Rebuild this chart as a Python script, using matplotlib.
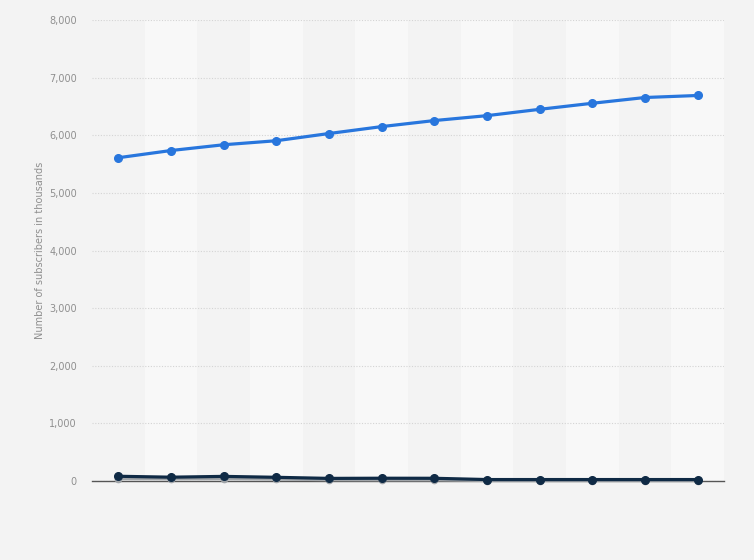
#!/usr/bin/env python3
"""Subscriber numbers in thousands, two main series plus a minor one near zero."""

import matplotlib
matplotlib.use('Agg')
import matplotlib.pyplot as plt
import numpy as np

periods = list(range(12))
main_subscribers = [5610, 5735, 5835, 5905, 6030, 6150, 6255, 6340, 6450, 6555, 6655, 6690]
second_subscribers = [82, 66, 80, 64, 45, 48, 47, 25, 25, 25, 25, 25]
third_subscribers = [40, 35, 38, 30, 20, 18, 18, 5, 5, 5, 5, 5]
y_ticks = [0, 1000, 2000, 3000, 4000, 5000, 6000, 7000, 8000]

BG = '#f3f3f3'
BAND = '#f8f8f8'

fig = plt.figure(figsize=(7.54, 5.6), dpi=100, facecolor=BG)
axis = fig.add_axes([92 / 754, 1 - 481 / 560, 632 / 754, 461 / 560])
axis.set_facecolor(BG)

for i in periods:
    if i % 2 == 1:
        axis.axvspan(i - 0.5, i + 0.5, color=BAND, lw=0, zorder=0)

axis.set_xlim(-0.5, len(periods) - 0.5)
axis.set_ylim(0, 8000)
axis.set_yticks(y_ticks)
axis.set_yticklabels([f'{v:,}' for v in y_ticks])
axis.grid(axis='y', color='#d4d4d4', linestyle=(0, (1, 1.5)), linewidth=0.8, zorder=1)
axis.set_xticks([])
axis.tick_params(axis='y', length=0, pad=11, labelsize=7, labelcolor='#8f8f8f')

for side in ('top', 'right', 'left'):
    axis.spines[side].set_visible(False)
axis.spines['bottom'].set_color('#555555')
axis.spines['bottom'].set_linewidth(1.0)
axis.spines['bottom'].set_zorder(2)

axis.plot(periods, third_subscribers, color='#a0a4a8', linewidth=2.0,
          marker='o', markersize=4.5, zorder=3, clip_on=False)
axis.plot(periods, second_subscribers, color='#0f2a45', linewidth=2.3,
          marker='o', markersize=5.5, zorder=4, clip_on=False)
axis.plot(periods, main_subscribers, color='#2876dd', linewidth=2.3,
          marker='o', markersize=5.5, zorder=5, clip_on=False)

fig.text(40 / 754, 1 - 250 / 560, 'Number of subscribers in thousands',
         rotation=90, ha='center', va='center', fontsize=7, color='#8f8f8f')

fig.savefig('out.png', dpi=100, facecolor=BG)
